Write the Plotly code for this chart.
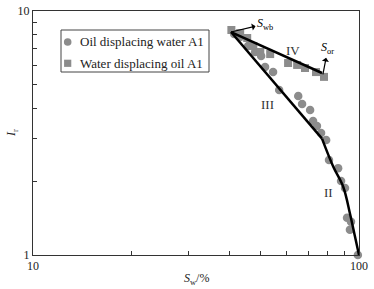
import math
import plotly.graph_objects as go

# Oil displacing water A1 (circles)
ow_sw = [41.4, 43.2, 45.7, 48.0, 50.1, 51.5, 54.5, 56.9, 65.1, 66.9, 70.8, 72.3, 74.3, 76.5, 79.3,
         80.9, 86.3, 88.1, 90.6, 91.9, 94.5, 93.8, 99.2]
ow_ir = [8.05, 7.82, 7.19, 6.79, 6.54, 5.90, 5.62, 4.74, 4.48, 4.16, 3.93, 3.54, 3.38, 3.16, 2.96,
         2.45, 2.27, 2.01, 1.88, 1.42, 1.37, 1.27, 1.0]

# Water displacing oil A1 (squares)
wo_sw = [40.6, 43.2, 45.4, 47.4, 49.8, 53.4, 60.6, 64.6, 68.3, 73.8, 78.1]
wo_ir = [8.36, 8.12, 7.75, 7.19, 6.79, 6.66, 6.12, 6.01, 5.84, 5.62, 5.37]

series_names = ["Oil displacing water A1", "Water displacing oil A1"]

# Fitted segments
line_iii_sw = [40.5, 77.0]
line_iii_ir = [8.2, 3.0]
curve_ii_sw = [77.0, 83.4, 89.5, 93.8, 97.2, 100.0]
curve_ii_ir = [3.0, 2.3, 1.9, 1.48, 1.19, 1.0]
line_iv_sw = [40.5, 77.0]
line_iv_ir = [8.2, 5.57]

# Labelled points
s_wb = (40.5, 8.2)
s_or = (77.5, 5.5)
labels = [("IV", 62.8, 6.92), ("III", 52.3, 4.12), ("II", 80.4, 1.81)]

x_ticks = [10, 20, 30, 40, 50, 60, 70, 80, 90, 100]
x_text = ["10", "", "", "", "", "", "", "", "", "100"]
y_ticks = [1, 2, 3, 4, 5, 6, 7, 8, 9, 10]
y_text = ["1", "", "", "", "", "", "", "", "", "10"]

FONT = "'Liberation Serif', 'DejaVu Serif', serif"
GRAY = "#8c8c8c"
TXT = "#222"

fig = go.Figure()
fig.add_trace(go.Scatter(x=ow_sw, y=ow_ir, mode="markers", name=series_names[0], showlegend=False,
                         marker=dict(symbol="circle", size=8.5, color=GRAY), cliponaxis=False))
fig.add_trace(go.Scatter(x=wo_sw, y=wo_ir, mode="markers", name=series_names[1], showlegend=False,
                         marker=dict(symbol="square", size=8, color=GRAY), cliponaxis=False))
fig.add_trace(go.Scatter(x=line_iii_sw, y=line_iii_ir, mode="lines", showlegend=False,
                         line=dict(color="black", width=2.5)))
fig.add_trace(go.Scatter(x=curve_ii_sw, y=curve_ii_ir, mode="lines", showlegend=False,
                         line=dict(color="black", width=2.5, shape="spline"), cliponaxis=False))
fig.add_trace(go.Scatter(x=line_iv_sw, y=line_iv_ir, mode="lines", showlegend=False,
                         line=dict(color="black", width=2.5)))

ann = []
ann.append(dict(x=math.log10(s_wb[0]), y=math.log10(s_wb[1]), xref="x", yref="y",
                text="<i>S</i><sub>wb</sub>", showarrow=True, arrowside="start",
                arrowhead=2, arrowsize=1, arrowwidth=1.2, arrowcolor="black",
                ax=34, ay=-8, font=dict(family=FONT, size=12, color="black")))
ann.append(dict(x=math.log10(s_or[0]), y=math.log10(s_or[1]), xref="x", yref="y",
                text="<i>S</i><sub>or</sub>", showarrow=True, arrowside="start",
                arrowhead=2, arrowsize=1, arrowwidth=1.2, arrowcolor="black",
                ax=5, ay=-26, font=dict(family=FONT, size=12, color="black")))
for t, xv, yv in labels:
    ann.append(dict(x=math.log10(xv), y=math.log10(yv), xref="x", yref="y", text=t,
                    showarrow=False, font=dict(family=FONT, size=13, color="#333")))
# axis titles
ann.append(dict(x=0.5, y=0, xref="paper", yref="paper", yshift=-14, yanchor="top",
                text="<i>S</i><sub>w</sub>/%", showarrow=False,
                font=dict(family=FONT, size=12, color=TXT)))
ann.append(dict(x=0, y=0.5, xref="paper", yref="paper", xshift=-21, xanchor="center",
                text="<i>I</i><sub>r</sub>", showarrow=False, textangle=-90,
                font=dict(family=FONT, size=12, color=TXT)))

# custom legend (box, markers, texts)
leg_rows_y = [0.873, 0.7857]
leg_sym_x = 0.1064
leg_txt_x = 0.1371
shapes = [dict(type="rect", xref="paper", yref="paper", x0=0.0859, x1=0.5399, y0=0.75, y1=0.9221,
               line=dict(color="#444", width=1), fillcolor="white", layer="below")]
shapes.append(dict(type="circle", xref="paper", yref="paper", xsizemode="pixel", ysizemode="pixel",
                   xanchor=leg_sym_x, yanchor=leg_rows_y[0], x0=-3.8, x1=3.8, y0=-3.8, y1=3.8,
                   fillcolor=GRAY, line=dict(width=0)))
shapes.append(dict(type="rect", xref="paper", yref="paper", xsizemode="pixel", ysizemode="pixel",
                   xanchor=leg_sym_x, yanchor=leg_rows_y[1], x0=-3.6, x1=3.6, y0=-3.6, y1=3.6,
                   fillcolor=GRAY, line=dict(width=0)))
for name, yv in zip(series_names, leg_rows_y):
    ann.append(dict(x=leg_txt_x, y=yv, xref="paper", yref="paper", xanchor="left", yanchor="middle",
                    text=name, showarrow=False, font=dict(family=FONT, size=13, color=TXT)))

fig.update_layout(
    width=374, height=289,
    margin=dict(l=33, r=15, t=11, b=34),
    paper_bgcolor="white", plot_bgcolor="white",
    font=dict(family=FONT, size=12, color=TXT),
    annotations=ann, shapes=shapes, showlegend=False,
    xaxis=dict(type="log", range=[1, 2], tickvals=x_ticks, ticktext=x_text,
               ticks="inside", ticklen=4, tickcolor="#333", showgrid=False, zeroline=False,
               showline=True, linecolor="#333", linewidth=1, mirror=True, automargin=False,
               tickfont=dict(family=FONT, size=12, color=TXT)),
    yaxis=dict(type="log", range=[0, 1], tickvals=y_ticks, ticktext=y_text,
               ticks="inside", ticklen=4, tickcolor="#333", showgrid=False, zeroline=False,
               showline=True, linecolor="#333", linewidth=1, mirror=True, automargin=False,
               tickfont=dict(family=FONT, size=12, color=TXT)),
)

fig.write_html("out.html", config={"displayModeBar": False},
               post_script="document.body.style.margin='0';")
